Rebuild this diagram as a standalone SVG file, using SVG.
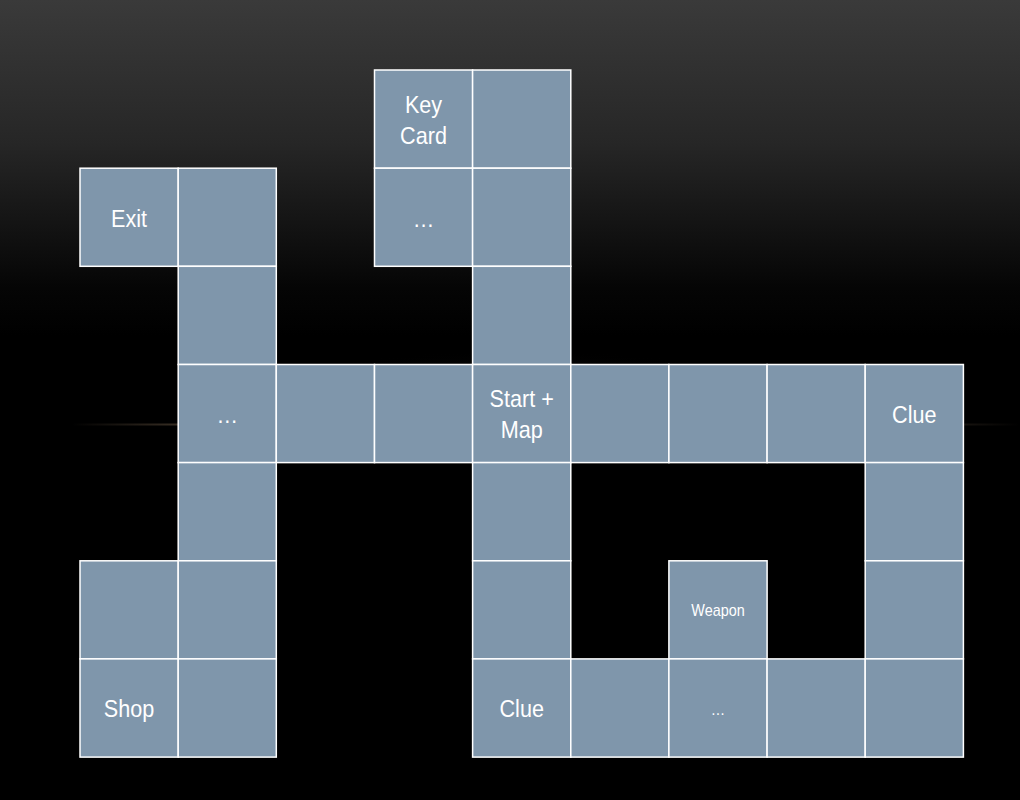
<svg xmlns="http://www.w3.org/2000/svg" width="1020" height="800" viewBox="0 0 1020 800">
<defs>
<linearGradient id="bg" x1="0" y1="0" x2="0" y2="1">
<stop offset="0" stop-color="#3a3a3a"/>
<stop offset="0.18" stop-color="#262626"/>
<stop offset="0.36" stop-color="#050505"/>
<stop offset="0.42" stop-color="#000"/>
<stop offset="1" stop-color="#000"/>
</linearGradient>
<linearGradient id="streak" x1="0" y1="0" x2="1" y2="0">
<stop offset="0.07" stop-color="#8a7258" stop-opacity="0"/>
<stop offset="0.2" stop-color="#8a7258" stop-opacity="0.5"/>
<stop offset="0.5" stop-color="#9a8266" stop-opacity="0.8"/>
<stop offset="0.88" stop-color="#8a7258" stop-opacity="0.35"/>
<stop offset="1" stop-color="#8a7258" stop-opacity="0"/>
</linearGradient>
<radialGradient id="glow" cx="0.5" cy="0.5" r="0.5">
<stop offset="0" stop-color="#2a2622" stop-opacity="0.9"/>
<stop offset="1" stop-color="#000" stop-opacity="0"/>
</radialGradient>
<style>
.c{fill:#7f96ab;stroke:#ffffff;stroke-width:1.5}
.t{font-family:"Liberation Sans",Arial,sans-serif;font-size:24px;fill:#ffffff;text-anchor:middle}
.s{font-size:16px}
</style>
</defs>
<rect x="0" y="0" width="1020" height="800" fill="url(#bg)"/>
<ellipse cx="520" cy="395" rx="260" ry="45" fill="url(#glow)"/>
<rect x="0" y="423.5" width="1020" height="2" fill="url(#streak)"/>

<g id="cell-keycard"><rect class="c" x="374.5" y="70" width="98.1" height="98.2"/><text class="t" transform="translate(423.5,113) scale(0.9,1)">Key</text><text class="t" transform="translate(423.5,144) scale(0.9,1)">Card</text></g>
<g id="cell-r0c4"><rect class="c" x="472.6" y="70" width="98.2" height="98.2"/></g>

<g id="cell-exit"><rect class="c" x="80" y="168.2" width="98.2" height="98.1"/><text class="t" transform="translate(129,227) scale(0.9,1)">Exit</text></g>
<g id="cell-r1c1"><rect class="c" x="178.2" y="168.2" width="98.1" height="98.1"/></g>
<g id="cell-r1c3"><rect class="c" x="374.5" y="168.2" width="98.1" height="98.1"/><text class="t" transform="translate(423.5,227) scale(0.9,1)">…</text></g>
<g id="cell-r1c4"><rect class="c" x="472.6" y="168.2" width="98.2" height="98.1"/></g>

<g id="cell-r2c1"><rect class="c" x="178.2" y="266.3" width="98.1" height="98.2"/></g>
<g id="cell-r2c4"><rect class="c" x="472.6" y="266.3" width="98.2" height="98.2"/></g>

<g id="cell-r3c1"><rect class="c" x="178.2" y="364.5" width="98.1" height="98.1"/><text class="t" transform="translate(227.3,423) scale(0.9,1)">…</text></g>
<g id="cell-r3c2"><rect class="c" x="276.3" y="364.5" width="98.2" height="98.1"/></g>
<g id="cell-r3c3"><rect class="c" x="374.5" y="364.5" width="98.1" height="98.1"/></g>
<g id="cell-start"><rect class="c" x="472.6" y="364.5" width="98.2" height="98.1"/><text class="t" transform="translate(521.7,407) scale(0.9,1)">Start +</text><text class="t" transform="translate(521.7,438) scale(0.9,1)">Map</text></g>
<g id="cell-r3c5"><rect class="c" x="570.8" y="364.5" width="98.1" height="98.1"/></g>
<g id="cell-r3c6"><rect class="c" x="668.9" y="364.5" width="98.2" height="98.1"/></g>
<g id="cell-r3c7"><rect class="c" x="767.1" y="364.5" width="98.1" height="98.1"/></g>
<g id="cell-clue1"><rect class="c" x="865.2" y="364.5" width="98.2" height="98.1"/><text class="t" transform="translate(914.3,423) scale(0.9,1)">Clue</text></g>

<g id="cell-r4c1"><rect class="c" x="178.2" y="462.6" width="98.1" height="98.2"/></g>
<g id="cell-r4c4"><rect class="c" x="472.6" y="462.6" width="98.2" height="98.2"/></g>
<g id="cell-r4c8"><rect class="c" x="865.2" y="462.6" width="98.2" height="98.2"/></g>

<g id="cell-r5c0"><rect class="c" x="80" y="560.8" width="98.2" height="98.1"/></g>
<g id="cell-r5c1"><rect class="c" x="178.2" y="560.8" width="98.1" height="98.1"/></g>
<g id="cell-r5c4"><rect class="c" x="472.6" y="560.8" width="98.2" height="98.1"/></g>
<g id="cell-weapon"><rect class="c" x="668.9" y="560.8" width="98.2" height="98.1"/><text class="t s" transform="translate(718,616) scale(0.9,1)">Weapon</text></g>
<g id="cell-r5c8"><rect class="c" x="865.2" y="560.8" width="98.2" height="98.1"/></g>

<g id="cell-shop"><rect class="c" x="80" y="658.9" width="98.2" height="98.2"/><text class="t" transform="translate(129,717) scale(0.9,1)">Shop</text></g>
<g id="cell-r6c1"><rect class="c" x="178.2" y="658.9" width="98.1" height="98.2"/></g>
<g id="cell-clue2"><rect class="c" x="472.6" y="658.9" width="98.2" height="98.2"/><text class="t" transform="translate(521.7,717) scale(0.9,1)">Clue</text></g>
<g id="cell-r6c5"><rect class="c" x="570.8" y="658.9" width="98.1" height="98.2"/></g>
<g id="cell-r6c6"><rect class="c" x="668.9" y="658.9" width="98.2" height="98.2"/><text class="t s" transform="translate(718,715) scale(0.9,1)">…</text></g>
<g id="cell-r6c7"><rect class="c" x="767.1" y="658.9" width="98.1" height="98.2"/></g>
<g id="cell-r6c8"><rect class="c" x="865.2" y="658.9" width="98.2" height="98.2"/></g>

<g id="connectors"></g>
</svg>
